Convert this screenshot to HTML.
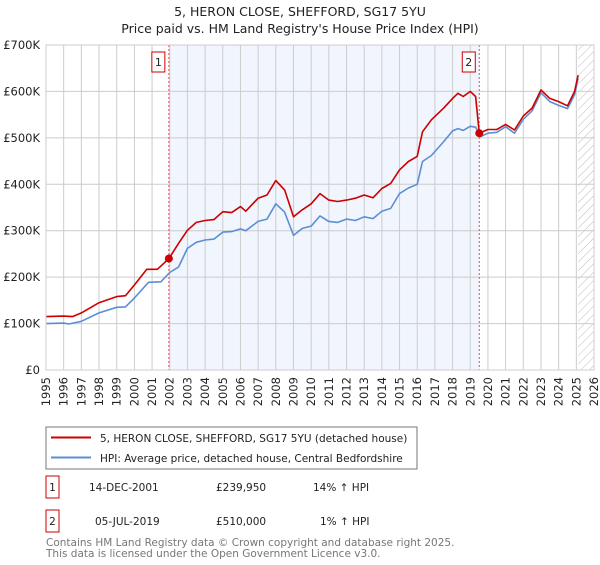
<!DOCTYPE html>
<html><head><meta charset="utf-8"><style>
body{margin:0;background:#fff;font-family:"Liberation Sans","DejaVu Sans",sans-serif;}
svg text{font-family:"DejaVu Sans","Liberation Sans",sans-serif;}
</style></head><body>
<svg id="c" width="600" height="560" xmlns="http://www.w3.org/2000/svg">
<defs><pattern id="hatch" width="6" height="6" patternUnits="userSpaceOnUse" patternTransform="rotate(45)"><line x1="0" y1="0" x2="0" y2="6" stroke="#bbb" stroke-width="1"/></pattern></defs>
<text x="300" y="16" text-anchor="middle" font-size="12.5" fill="#222">5, HERON CLOSE, SHEFFORD, SG17 5YU</text>
<text x="300" y="33" text-anchor="middle" font-size="12.5" fill="#222">Price paid vs. HM Land Registry's House Price Index (HPI)</text>
<g id="plot"></g>
<g>
<rect x="46" y="427" width="371" height="42" fill="#fff" stroke="#777"/>
<line x1="51" y1="437.5" x2="91" y2="437.5" stroke="#cc0000" stroke-width="2"/>
<text x="100" y="442" font-size="10.5" fill="#222">5, HERON CLOSE, SHEFFORD, SG17 5YU (detached house)</text>
<line x1="51" y1="457.5" x2="91" y2="457.5" stroke="#5b8fd4" stroke-width="2"/>
<text x="100" y="462" font-size="10.5" fill="#222">HPI: Average price, detached house, Central Bedfordshire</text>
</g>
<g font-size="10.5" fill="#222">
<rect x="46" y="476" width="13" height="22" fill="none" stroke="#cc0000"/>
<text x="52.5" y="491" text-anchor="middle">1</text>
<text x="89" y="491">14-DEC-2001</text>
<text x="216" y="491">£239,950</text>
<text x="313" y="491">14% ↑ HPI</text>
<rect x="46" y="510" width="13" height="22" fill="none" stroke="#cc0000"/>
<text x="52.5" y="525" text-anchor="middle">2</text>
<text x="95" y="525">05-JUL-2019</text>
<text x="216" y="525">£510,000</text>
<text x="320" y="525">1% ↑ HPI</text>
</g>
<text x="46" y="546" font-size="10.5" fill="#777">Contains HM Land Registry data © Crown copyright and database right 2025.</text>
<text x="46" y="557" font-size="10.5" fill="#777">This data is licensed under the Open Government Licence v3.0.</text>
</svg>
<script>
const years=[1995,1996,1997,1998,1999,2000,2001,2002,2003,2004,2005,2006,2007,2008,2009,2010,2011,2012,2013,2014,2015,2016,2017,2018,2019,2020,2021,2022,2023,2024,2025,2026];
const yTicks=[0,100000,200000,300000,400000,500000,600000,700000];
const yTickLabels=["£0","£100K","£200K","£300K","£400K","£500K","£600K","£700K"];
const propT=[1995,1996,1996.5,1997,1998,1999,1999.5,2000,2000.7,2001.3,2001.95,2002.5,2003,2003.5,2004,2004.5,2005,2005.5,2006,2006.3,2007,2007.5,2008,2008.5,2009,2009.5,2010,2010.5,2011,2011.5,2012,2012.5,2013,2013.5,2014,2014.5,2015,2015.5,2016,2016.3,2016.8,2017.5,2018,2018.3,2018.6,2019,2019.3,2019.51,2020,2020.5,2021,2021.5,2022,2022.5,2023,2023.5,2024,2024.5,2024.9,2025.1];
const propV=[115,116,115,123,145,158,160,183,217,217,240,273,301,318,322,324,341,339,352,342,370,377,408,388,330,345,358,380,366,363,366,370,377,371,391,402,431,449,460,513,539,564,585,596,589,600,589,510,518,518,529,517,547,564,603,585,578,569,600,635];
const hpiT=[1995,1996,1996.3,1997,1998,1999,1999.5,2000,2000.8,2001.5,2002,2002.5,2003,2003.5,2004,2004.5,2005,2005.5,2006,2006.3,2007,2007.5,2008,2008.5,2009,2009.5,2010,2010.5,2011,2011.5,2012,2012.5,2013,2013.5,2014,2014.5,2015,2015.5,2016,2016.3,2016.8,2017.5,2018,2018.3,2018.6,2019,2019.3,2019.6,2020,2020.5,2021,2021.5,2022,2022.5,2023,2023.5,2024,2024.5,2024.9,2025.1];
const hpiV=[100,101,99,105,123,135,136,155,189,190,210,222,262,275,280,282,297,298,304,300,320,325,358,340,290,305,310,332,320,318,325,322,330,326,342,348,380,392,400,449,462,492,515,520,516,525,523,503,510,512,524,510,540,558,597,578,570,563,593,628];
const saleT=[2001.95,2019.51];
const saleV=[239950,510000];
const saleLabels=["1","2"];

const L=46,R=594,T=45,B=370;
const x=t=>L+(t-1995)/(2026-1995)*(R-L);
const y=v=>B-v/700000*(B-T);
const NS="http://www.w3.org/2000/svg";
const g=document.getElementById('plot');
function mk(tag,attrs){const e=document.createElementNS(NS,tag);for(const k in attrs)e.setAttribute(k,attrs[k]);g.appendChild(e);return e;}

let e=mk('rect',{x:L,y:T,width:R-L,height:B-T,fill:'#fff'});


e=mk('rect',{x:x(saleT[0]),y:T,width:x(saleT[1])-x(saleT[0]),height:B-T,fill:'#eef3fd',opacity:0.8});


e=mk('rect',{x:x(2025.1),y:T,width:R-x(2025.1),height:B-T,fill:'url(#hatch)'});


years.forEach(yr=>{
  const l=mk('line',{x1:x(yr),x2:x(yr),y1:T,y2:B,stroke:'#ccc','stroke-width':1});
  
  
  const t=mk('text',{x:0,y:0,'font-size':11.5,fill:'#222','text-anchor':'end',transform:`translate(${x(yr)+4},${B+7}) rotate(-90)`});
  t.textContent=yr;
  
  
});
yTicks.forEach((v,i)=>{
  const l=mk('line',{x1:L,x2:R,y1:y(v),y2:y(v),stroke:'#ccc','stroke-width':1});
  
  
  const t=mk('text',{x:L-6,y:y(v)+4,'font-size':11.5,fill:'#222','text-anchor':'end'});
  t.textContent=yTickLabels[i];
  
  
});
saleT.forEach((s,i)=>{
  const l=mk('line',{x1:x(s),x2:x(s),y1:T,y2:B,stroke:'#e05050','stroke-width':1,'stroke-dasharray':'2,2'});
  
  
});
function path(ts,vs,col,name){
  const d=ts.map((t,i)=>(i?'L':'M')+x(t).toFixed(1)+','+y(vs[i]*1000).toFixed(1)).join('');
  const p=mk('path',{d:d,fill:'none',stroke:col,'stroke-width':1.6,'stroke-linejoin':'round'});
  
  
}
path(hpiT,hpiV,'#5b8fd4','hpi-line');
path(propT,propV,'#cc0000','property-line');
saleT.forEach((s,i)=>{
  const c=mk('circle',{cx:x(s),cy:y(saleV[i]),r:4,fill:'#cc0000'});
  
  
  const bx=x(s)-17;
  const r=mk('rect',{x:bx,y:52,width:13,height:20,fill:'#fff',stroke:'#cc0000'});
  
  
  const t=mk('text',{x:bx+6.5,y:66,'font-size':11,fill:'#222','text-anchor':'middle'});
  t.textContent=saleLabels[i];
  
  
});
e=mk('rect',{x:L,y:T,width:R-L,height:B-T,fill:'none',stroke:'#ccc'});


</script>
</body></html>
